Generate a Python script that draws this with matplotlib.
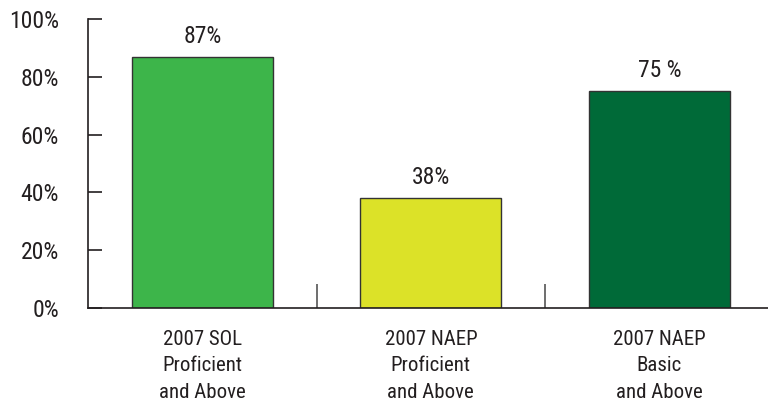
import matplotlib
matplotlib.use("Agg")
import matplotlib.pyplot as plt

categories = ['2007 SOL\nProficient\nand Above', '2007 NAEP\nProficient\nand Above', '2007 NAEP\nBasic\nand Above']
values = [87, 38, 75]
value_labels = ['87%', '38%', '75 %']
bar_colors = ['#3db54a', '#dce228', '#006a38']
yticks = [0, 20, 40, 60, 80, 100]

plt.rcParams['font.family'] = ['Roboto Condensed', 'DejaVu Sans']
plt.rcParams['text.color'] = '#231f20'


def plot_bars():
    fig = plt.figure(figsize=(7.68, 4.07), dpi=100)
    ax = fig.add_axes([88 / 768, 1 - 308 / 407, 1 - 88 / 768, (308 - 19) / 407])

    x = list(range(len(values)))
    ax.bar(x, values, width=0.617, color=bar_colors, edgecolor='#333333', linewidth=1.0, zorder=2)

    for i, v in enumerate(values):
        ax.text(i, v + 4.8, value_labels[i], ha='center', va='baseline', fontsize=17)

    ax.set_ylim(0, 100)
    ax.set_xlim(-0.5, 2.475)
    ax.set_yticks(yticks)
    ax.set_yticklabels([f'{t}%' for t in yticks], fontsize=17, color='#231f20')
    ax.tick_params(axis='y', direction='in', length=10, width=1.2, pad=21, color='#231f20')

    ax.set_xticks([0.5, 1.5])
    ax.set_xticklabels([])
    ax.tick_params(axis='x', direction='in', length=17, width=1.2, color='#555555')

    for i, c in enumerate(categories):
        ax.text(i, -7.5, c, ha='center', va='top', fontsize=15, linespacing=1.5)

    for s in ['top', 'right']:
        ax.spines[s].set_visible(False)
    for s in ['left', 'bottom']:
        ax.spines[s].set_linewidth(1.2)
        ax.spines[s].set_color('#231f20')

    fig.savefig('out.png', dpi=100)


if __name__ == '__main__':
    plot_bars()
